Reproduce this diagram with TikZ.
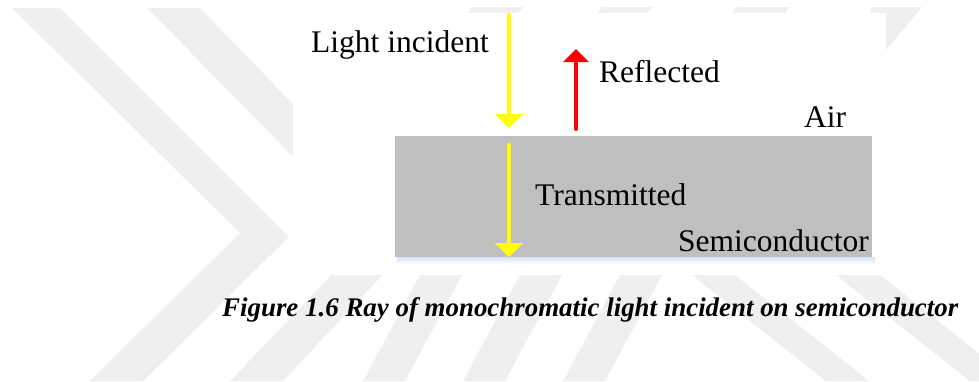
\documentclass[tikz,border=0pt]{standalone}
\usepackage{fontspec}
\setmainfont{Liberation Serif}
\usetikzlibrary{arrows.meta}
\definecolor{wm}{RGB}{239,239,239}
\definecolor{semi}{RGB}{191,191,191}
\definecolor{ray}{RGB}{255,255,0}
\definecolor{refl}{RGB}{255,0,0}
\definecolor{shadowc}{RGB}{214,226,242}
\tikzset{
  lbl/.style={anchor=base west,inner sep=0pt,font=\fontsize{31.5}{36}\selectfont},
  figcaption/.style={anchor=base west,inner sep=0pt,font=\fontsize{26.9}{30}\selectfont\bfseries\itshape},
  yray/.style={draw=ray,line width=4.5pt,line cap=round,-{Triangle[width=28pt,length=14pt]}},
  rray/.style={draw=refl,line width=4pt,line cap=round,-{Triangle[width=25pt,length=13pt]}},
  band/.style={fill=wm}
}
\begin{document}
\begin{tikzpicture}[x=1pt,y=-1pt]
\useasboundingbox (0,0) rectangle (979,381);
\fill[white] (0,0) rectangle (979,381);
\begin{scope}
\clip (0,0) rectangle (979,381);
% watermark bands
\fill[band] (12,8) -- (60,8) -- (289,237) -- (143,381) -- (90,381) -- (240,233) -- cycle;
\fill[band] (147,8) -- (200,8) -- (420,235) -- (283,381) -- (230,381) -- (370,235) -- cycle;
\fill[band] (420,275) -- (462,275) -- (405,381) -- (363,381) -- cycle;
\fill[band] (520,275) -- (562,275) -- (505,381) -- (463,381) -- cycle;
\fill[band] (620,275) -- (662,275) -- (605,381) -- (563,381) -- cycle;
\fill[band] (692,275) -- (735,275) -- (869,381) -- (826,381) -- cycle;
\fill[band] (836,275) -- (880,275) -- (1014,381) -- (970,381) -- cycle;
\fill[band] (472,7) -- (523,7) -- (518,13) -- (467,13) -- cycle;
\fill[band] (602,7) -- (652,7) -- (647,13) -- (597,13) -- cycle;
\fill[band] (737,7) -- (790,7) -- (785,13) -- (732,13) -- cycle;
\fill[band] (871,7) -- (922,7) -- (886,50) -- (866,50) -- cycle;
\end{scope}
% figure area
\fill[white] (293,13) rectangle (886,275);
\shade[top color=shadowc,bottom color=white] (397,257) rectangle (875,264);
\node[fill=semi,inner sep=0pt,minimum width=477pt,minimum height=121pt,anchor=north west] (semibox) at (395,136) {};
% rays
\coordinate (inTop) at (509,15);
\coordinate (inTip) at (509,128);
\coordinate (reBot) at (576,129);
\coordinate (reTip) at (576,49);
\coordinate (trTop) at (509,145);
\coordinate (trTip) at (509,257);
\draw[yray] (inTop) -- (inTip);
\draw[rray] (reBot) -- (reTip);
\draw[yray] (trTop) -- (trTip);
% labels
\node[lbl] (lLight) at (311,52) {Light incident};
\node[lbl] (lRefl) at (599,82) {Reflected};
\node[lbl] (lAir) at (804,127) {Air};
\node[lbl] (lTrans) at (535,205) {Transmitted};
\node[lbl] (lSemi) at (678,251) {Semiconductor};
\node[figcaption] (caption) at (222,316) {Figure 1.6 Ray of monochromatic light incident on semiconductor};
\end{tikzpicture}
\end{document}
